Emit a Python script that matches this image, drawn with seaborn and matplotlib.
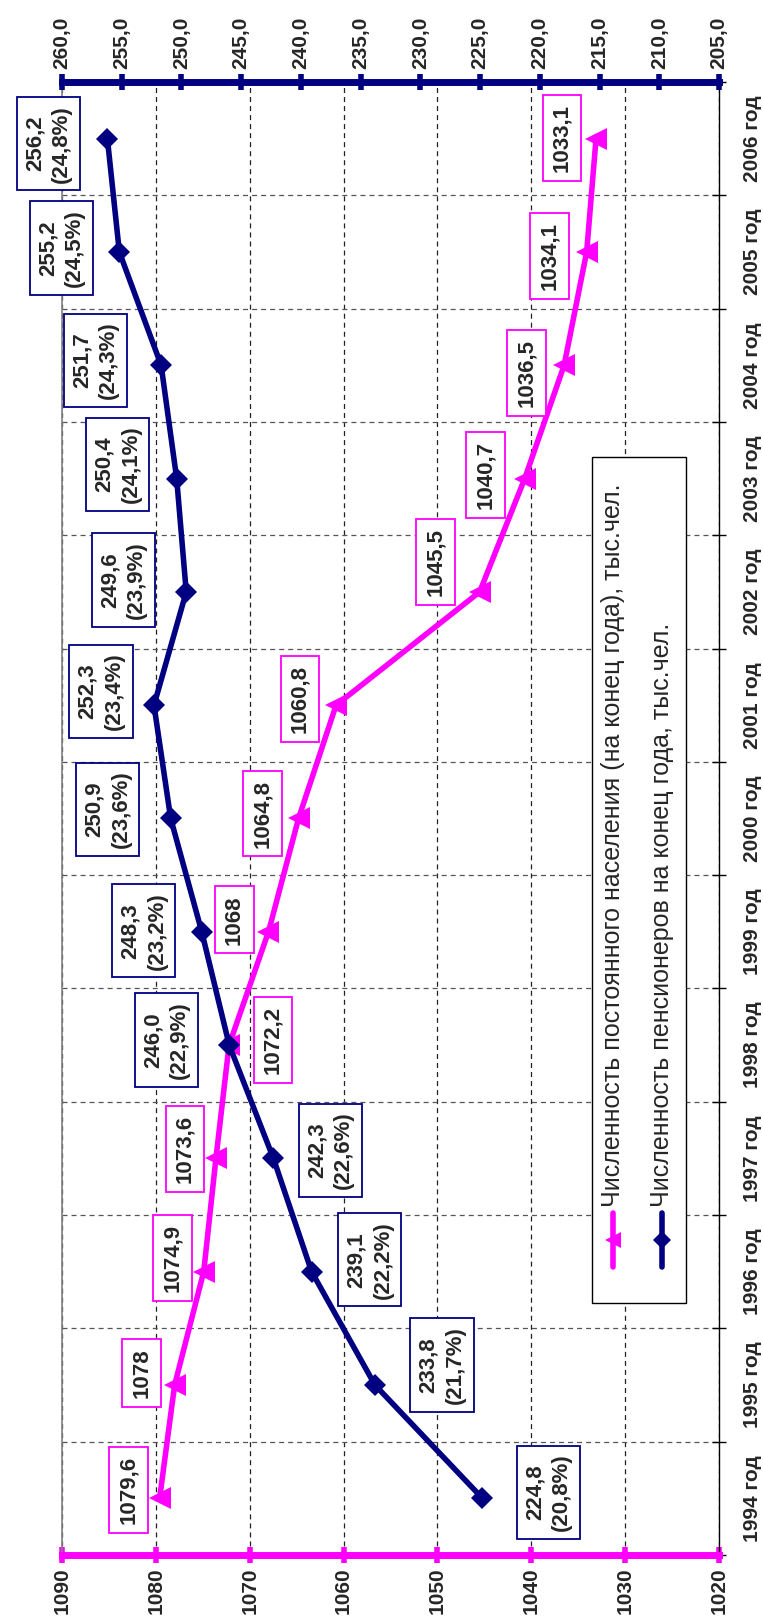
import matplotlib
matplotlib.use("Agg")
import matplotlib.pyplot as plt
import seaborn as sns
from matplotlib.lines import Line2D
from matplotlib.patches import Rectangle
from matplotlib.ticker import FixedLocator

# ---- data ----
years = [1994, 1995, 1996, 1997, 1998, 1999, 2000, 2001, 2002, 2003, 2004, 2005, 2006]
year_labels = [f"{y} год" for y in years]

population = [1079.6, 1078.0, 1074.9, 1073.6, 1072.2, 1068.0, 1064.8,
              1060.8, 1045.5, 1040.7, 1036.5, 1034.1, 1033.1]
population_labels = ["1079,6", "1078", "1074,9", "1073,6", "1072,2", "1068", "1064,8",
                     "1060,8", "1045,5", "1040,7", "1036,5", "1034,1", "1033,1"]

pensioners = [224.8, 233.8, 239.1, 242.3, 246.0, 248.3, 250.9,
              252.3, 249.6, 250.4, 251.7, 255.2, 256.2]
pensioner_share = [20.8, 21.7, 22.2, 22.6, 22.9, 23.2, 23.6,
                   23.4, 23.9, 24.1, 24.3, 24.5, 24.8]

population_ticks = [1090, 1080, 1070, 1060, 1050, 1040, 1030, 1020]
pensioner_ticks = [260, 255, 250, 245, 240, 235, 230, 225, 220, 215, 210, 205]

legend_labels = ["Численность постоянного населения (на конец года), тыс.чел.",
                 "Численность пенсионеров на конец года, тыс.чел."]

# label placement (pixels: right, down) relative to each marker
pop_offsets = [(-31, -8), (-33, -12), (-31, -14), (-31, -9), (44, -5), (-34, -12), (-36, -5),
               (-36, -6), (-44, -30), (-39, -4), (-38, 8), (-37, 4), (-34, -1)]
pens_offsets = [(66, -6), (67, -20), (58, -12), (57, -8), (-63, -5), (-58, -1), (-63, -9),
                (-53, -14), (-63, -12), (-59, -14), (-66, -5), (-58, -4), (-59, 5)]

PINK = "#FF00FF"
NAVY = "#000080"
W, H = 763, 1619


def comma(v):
    return f"{v:.1f}".replace(".", ",")


def fx(px):
    return px / W


def fy(py):
    return 1 - py / H


sns.set_style("white")
plt.rcParams["font.family"] = ["Liberation Sans", "DejaVu Sans"]
plt.rcParams["lines.scale_dashes"] = False

pos = list(range(len(years)))

fig = plt.figure(figsize=(W / 100, H / 100), dpi=100)
ax = fig.add_axes([fx(62), fy(1555), fx(719) - fx(62), fy(82) - fy(1555)])
ax2 = ax.twiny()

# population series (bottom axis)
sns.lineplot(x=population, y=pos, orient="y", ax=ax, color=PINK, linewidth=4,
             marker="<", markersize=16, markeredgewidth=0, errorbar=None, zorder=3)
# pensioners series (top axis)
sns.lineplot(x=pensioners, y=pos, orient="y", ax=ax2, color=NAVY, linewidth=4,
             marker="D", markersize=11.5, markeredgewidth=0, errorbar=None, zorder=3)

ax.set_xlim(1090, 1020)
ax2.set_xlim(260, 205)
ax.set_ylim(-0.5, len(years) - 0.5)
ax2.set_ylim(-0.5, len(years) - 0.5)
ax.set_xlabel("")
ax.set_ylabel("")
ax2.set_xlabel("")
ax2.set_ylabel("")

# bottom (population) axis
ax.set_xticks(population_ticks)
ax.set_xticklabels([str(t) for t in population_ticks], rotation=90, fontsize=15, fontweight="bold")
ax.tick_params(axis="x", which="major", direction="inout", length=12, width=4,
               color=PINK, pad=3, bottom=True, top=False)
ax.spines["bottom"].set_color(PINK)
ax.spines["bottom"].set_linewidth(5)
ax.spines["top"].set_visible(False)
ax.spines["left"].set_color("#808080")
ax.spines["left"].set_linewidth(1.2)
ax.spines["right"].set_color("black")
ax.spines["right"].set_linewidth(1)

# top (pensioners) axis
ax2.set_xticks(pensioner_ticks)
ax2.set_xticklabels([comma(t) for t in pensioner_ticks], rotation=90, fontsize=15, fontweight="bold")
ax2.tick_params(axis="x", which="major", direction="inout", length=12, width=4,
                color=NAVY, pad=3, top=True, bottom=False)
for s in ["bottom", "left", "right"]:
    ax2.spines[s].set_visible(False)
ax2.spines["top"].set_color(NAVY)
ax2.spines["top"].set_linewidth(5)

# category axis on the right
ax.yaxis.tick_right()
ax.set_yticks(pos)
ax.set_yticklabels(year_labels, rotation=90, va="center", fontsize=15, fontweight="bold")
ax.yaxis.set_minor_locator(FixedLocator([p - 0.5 for p in pos] + [len(years) - 0.5]))
ax.tick_params(axis="y", which="major", length=0, pad=17, left=False, right=True)
ax.tick_params(axis="y", which="minor", direction="inout", length=10, width=1,
               color="black", left=False, right=True)
ax2.tick_params(axis="y", which="both", left=False, right=False, labelleft=False, labelright=False)

# dashed grid
ax.grid(axis="x", which="major", color="#222222", linewidth=0.9, linestyle=(0, (3.6, 2.9)))
ax.grid(axis="y", which="minor", color="#555555", linewidth=0.9, linestyle=(0, (3.6, 2.9)))
ax.grid(axis="y", which="major", visible=False)
ax.set_axisbelow(True)

# data labels
for x, p, txt, (dx, dy) in zip(population, pos, population_labels, pop_offsets):
    ax.annotate(txt, xy=(x, p), xytext=(dx * 0.72, -dy * 0.72), textcoords="offset points",
                ha="center", va="center", rotation=90, fontsize=16, fontweight="bold",
                bbox=dict(boxstyle="square,pad=0.4", fc="white", ec=PINK, lw=1.3),
                zorder=5, annotation_clip=False)

for x, p, share, (dx, dy) in zip(pensioners, pos, pensioner_share, pens_offsets):
    ax2.annotate(f"{comma(x)}\n({comma(share)}%)", xy=(x, p), xytext=(dx * 0.72, -dy * 0.72),
                 textcoords="offset points", ha="center", va="center", rotation=90,
                 multialignment="center", fontsize=16, fontweight="bold", linespacing=1.35,
                 bbox=dict(boxstyle="square,pad=0.35", fc="white", ec=NAVY, lw=1.3),
                 zorder=5, annotation_clip=False)

# legend, drawn rotated like the rest of the chart
fig.patches.append(Rectangle((fx(592), fy(1303)), fx(686) - fx(592), fy(457) - fy(1303),
                             transform=fig.transFigure, fc="white", ec="black", lw=1, zorder=10))
for lx, color, marker, ms, label in [(613, PINK, "<", 12, legend_labels[0]),
                                     (662, NAVY, "D", 9, legend_labels[1])]:
    fig.lines.append(Line2D([fx(lx), fx(lx)], [fy(1267), fy(1213)], transform=fig.transFigure,
                            color=color, lw=4, solid_capstyle="round", zorder=11))
    fig.lines.append(Line2D([fx(lx)], [fy(1240)], transform=fig.transFigure, color=color,
                            marker=marker, markersize=ms, markeredgewidth=0, zorder=12))
    fig.text(fx(lx), fy(1207), label, rotation=90, rotation_mode="anchor",
             ha="left", va="center", fontsize=18, zorder=12)

fig.savefig("out.png", dpi=100)
